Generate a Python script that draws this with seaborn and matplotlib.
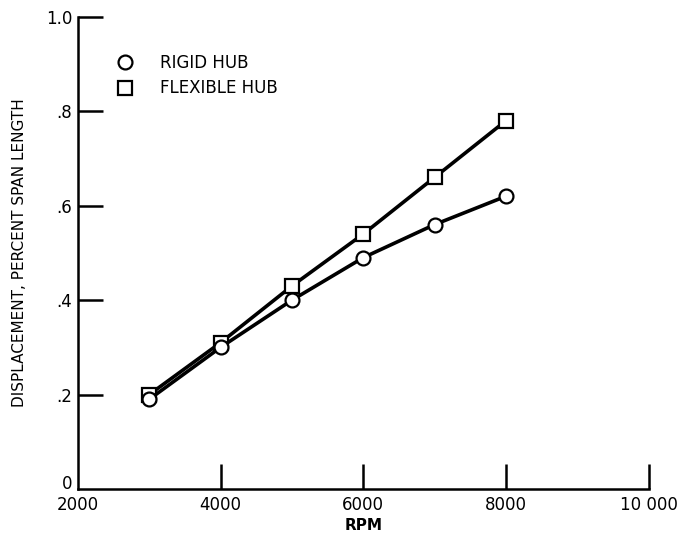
import pandas as pd
import matplotlib
matplotlib.use("Agg")
import matplotlib.pyplot as plt
from matplotlib.lines import Line2D
import seaborn as sns

# values
rpm = [3000, 4000, 5000, 6000, 7000, 8000]
rigid_hub = [0.19, 0.30, 0.40, 0.49, 0.56, 0.62]
flexible_hub = [0.20, 0.31, 0.43, 0.54, 0.66, 0.78]
series_names = ["RIGID HUB", "FLEXIBLE HUB"]
x_ticks = [2000, 4000, 6000, 8000, 10000]
x_tick_labels = ["2000", "4000", "6000", "8000", "10 000"]
y_ticks = [0, 0.2, 0.4, 0.6, 0.8, 1.0]
y_tick_labels = ["0", ".2", ".4", ".6", ".8", "1.0"]

df = pd.DataFrame({
    "rpm": rpm * 2,
    "disp": rigid_hub + flexible_hub,
    "hub": [series_names[0]] * len(rpm) + [series_names[1]] * len(rpm),
})

sns.set_style("ticks", {"axes.edgecolor": "black", "text.color": "black",
                        "xtick.color": "black", "ytick.color": "black",
                        "axes.labelcolor": "black"})
plt.rcParams["font.family"] = ["Liberation Sans Narrow", "DejaVu Sans"]

fig = plt.figure(figsize=(6.96, 5.36), dpi=100)
ax = fig.add_axes([0.112, 0.0877, 0.82, 0.881])

markers = {"RIGID HUB": "o", "FLEXIBLE HUB": "s"}
# flexible first so the circles sit on top at low rpm
for name in [series_names[1], series_names[0]]:
    sub = df[df["hub"] == name]
    sns.lineplot(data=sub, x="rpm", y="disp", ax=ax, color="black",
                 linewidth=2.6, marker=markers[name], markersize=10,
                 markerfacecolor="white", markeredgecolor="black",
                 markeredgewidth=1.6, legend=False)

ax.set_xlim(2000, 10000)
ax.set_ylim(0, 1.0)
ax.set_xticks(x_ticks)
ax.set_xticklabels(x_tick_labels)
ax.set_yticks(y_ticks)
ax.set_yticklabels(y_tick_labels)
ax.tick_params(direction="in", length=18, width=1.8, labelsize=12)
ax.tick_params(axis="x", pad=5)
ax.tick_params(axis="y", pad=4)
ax.xaxis.get_major_ticks()[0].tick1line.set_visible(False)
ax.yaxis.get_major_ticks()[0].tick1line.set_visible(False)
# keep the 0 label just above the 2000 label
ax.get_yticklabels()[0].set_verticalalignment("baseline")

sns.despine(ax=ax)
for s in ["left", "bottom"]:
    ax.spines[s].set_linewidth(1.8)

ax.set_xlabel("RPM", fontsize=11, fontweight="bold", labelpad=3)
ax.set_ylabel("DISPLACEMENT, PERCENT SPAN LENGTH", fontsize=11, labelpad=14)

handles = [Line2D([], [], linestyle="none", marker=markers[n], markersize=10,
                  markerfacecolor="white", markeredgecolor="black",
                  markeredgewidth=1.6) for n in series_names]
ax.legend(handles, series_names, loc="upper left", bbox_to_anchor=(0.042, 0.953),
          frameon=False, fontsize=12, handlelength=1.0, handletextpad=1.6,
          labelspacing=0.45)

fig.savefig("out.png", dpi=100)
